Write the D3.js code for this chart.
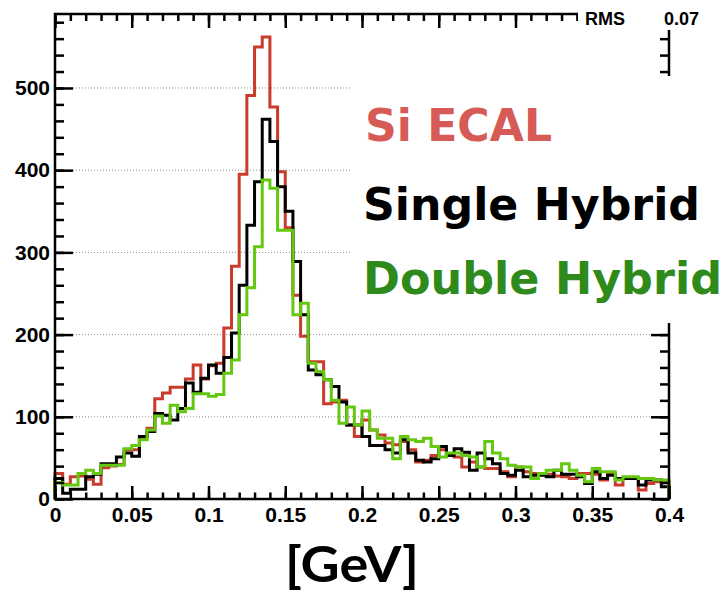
<!DOCTYPE html>
<html>
<head>
<meta charset="utf-8">
<script src="https://cdn.jsdelivr.net/npm/d3@7"></script>
<style>
  html, body { margin: 0; padding: 0; background: #fff; }
  svg { display: block; }
</style>
</head>
<body>
<svg id="chart" width="727" height="594"></svg>
<script>
// Histogram binning: 80 bins of 0.005 GeV from 0 to 0.4 GeV
const xMin = 0, xMax = 0.4, nBins = 80;

// Entries per bin for each calorimeter option
const siEcal = [
  31, 18, 27, 28, 24, 18, 38, 40, 42, 60,
  60, 75, 86, 122, 129, 136, 136, 146, 163, 146,
  162, 165, 208, 283, 395, 491, 550, 562, 477, 398,
  330, 248, 198, 167, 167, 116, 118, 120, 90, 76,
  96, 84, 78, 68, 66, 70, 60, 45, 47, 53,
  60, 53, 51, 39, 45, 39, 37, 37, 33, 27,
  39, 33, 31, 30, 30, 28, 27, 25, 31, 31,
  30, 23, 31, 17, 25, 25, 11, 19, 21, 21
];
const singleHybrid = [
  25, 7, 12, 12, 27, 30, 43, 43, 51, 56,
  52, 76, 82, 104, 102, 96, 110, 141, 130, 147,
  163, 153, 172, 202, 260, 333, 386, 462, 435, 380,
  350, 289, 224, 157, 151, 145, 137, 118, 90, 90,
  76, 65, 65, 60, 56, 72, 56, 47, 45, 49,
  64, 53, 61, 57, 35, 56, 49, 43, 31, 29,
  35, 27, 29, 29, 27, 35, 30, 30, 27, 19,
  33, 25, 29, 25, 25, 25, 17, 23, 23, 15
];
const doubleHybrid = [
  20, 17, 17, 31, 35, 31, 41, 41, 41, 61,
  65, 72, 84, 101, 92, 114, 106, 110, 128, 128,
  125, 127, 153, 169, 224, 257, 307, 388, 378, 327,
  327, 224, 238, 165, 155, 145, 120, 92, 112, 90,
  107, 84, 74, 74, 49, 76, 72, 70, 74, 64,
  51, 56, 56, 53, 51, 39, 70, 56, 49, 41,
  39, 39, 25, 31, 35, 35, 43, 35, 29, 21,
  37, 33, 33, 23, 27, 27, 25, 25, 23, 23
];

const seriesNames = ["Si ECAL", "Single Hybrid", "Double Hybrid"];
const lineColors = ["#c93b2b", "#000000", "#63c80f"];
const labelColors = ["#d65a55", "#000000", "#2f8a1c"];

const xTicksMajor = [0, 0.05, 0.1, 0.15, 0.2, 0.25, 0.3, 0.35, 0.4];
const xTickLabels = ["0", "0.05", "0.1", "0.15", "0.2", "0.25", "0.3", "0.35", "0.4"];
const yTicksMajor = [0, 100, 200, 300, 400, 500];
const yMax = 590;

const statName = "RMS";
const statValue = "0.07";
const axisTitle = "[GeV]";

// ---- layout ----
const frame = { left: 55, right: 669, top: 14, bottom: 499 };
const svg = d3.select("#chart");

const x = d3.scaleLinear().domain([xMin, xMax]).range([frame.left, frame.right]);
const y = d3.scaleLinear().domain([0, yMax]).range([frame.bottom, frame.top]);
const binW = (xMax - xMin) / nBins;

const xMinor = d3.range(0, 41).map(i => +(i * 0.01).toFixed(2));
const yMinor = d3.range(0, 30).map(i => i * 20);

// dotted horizontal grid at the major y ticks
svg.append("g")
  .selectAll("line")
  .data(yTicksMajor.filter(v => v > 0))
  .join("line")
  .attr("x1", frame.left).attr("x2", frame.right)
  .attr("y1", d => y(d)).attr("y2", d => y(d))
  .attr("stroke", "#8a8a8a")
  .attr("stroke-width", 1)
  .attr("stroke-dasharray", "1,2");

// step outlines of the three histograms
const stepLine = d3.line().x(d => x(d[0])).y(d => y(d[1]));
function stepPoints(values) {
  const pts = [[xMin, 0]];
  values.forEach((v, i) => {
    pts.push([xMin + i * binW, v]);
    pts.push([xMin + (i + 1) * binW, v]);
  });
  pts.push([xMax, 0]);
  return pts;
}
[siEcal, singleHybrid, doubleHybrid].forEach((vals, k) => {
  svg.append("path")
    .attr("d", stepLine(stepPoints(vals)))
    .attr("fill", "none")
    .attr("stroke", lineColors[k])
    .attr("stroke-width", 3)
    .attr("stroke-linejoin", "miter");
});

// ---- axes (ticks point into the frame) ----
const tickFont = "'Liberation Sans', Arial, Helvetica, sans-serif";
function styleAxis(g) {
  g.select(".domain").remove();
  g.selectAll(".tick line").attr("stroke", "#000").attr("stroke-width", 2.5);
  g.selectAll("text")
    .attr("font-family", tickFont)
    .attr("font-weight", "bold")
    .attr("font-size", 21)
    .attr("fill", "#000");
}

// bottom
svg.append("g").attr("transform", `translate(0,${frame.bottom})`)
  .call(d3.axisBottom(x).tickValues(xMinor).tickSize(-6.5).tickFormat(""))
  .call(styleAxis);
svg.append("g").attr("transform", `translate(0,${frame.bottom})`)
  .call(d3.axisBottom(x).tickValues(xTicksMajor).tickSize(-13).tickPadding(8)
    .tickFormat((d, i) => xTickLabels[i]))
  .call(styleAxis);

// top
svg.append("g").attr("transform", `translate(0,${frame.top})`)
  .call(d3.axisTop(x).tickValues(xMinor).tickSize(-7).tickFormat(""))
  .call(styleAxis);
svg.append("g").attr("transform", `translate(0,${frame.top})`)
  .call(d3.axisTop(x).tickValues(xTicksMajor).tickSize(-14).tickFormat(""))
  .call(styleAxis);

// left
svg.append("g").attr("transform", `translate(${frame.left},0)`)
  .call(d3.axisLeft(y).tickValues(yMinor).tickSize(-9).tickFormat(""))
  .call(styleAxis);
svg.append("g").attr("transform", `translate(${frame.left},0)`)
  .call(d3.axisLeft(y).tickValues(yTicksMajor).tickSize(-18).tickPadding(5)
    .tickFormat(d3.format("d")))
  .call(styleAxis);

// right
svg.append("g").attr("transform", `translate(${frame.right},0)`)
  .call(d3.axisRight(y).tickValues(yMinor).tickSize(-9).tickFormat(""))
  .call(styleAxis);
svg.append("g").attr("transform", `translate(${frame.right},0)`)
  .call(d3.axisRight(y).tickValues(yTicksMajor).tickSize(-18).tickFormat(""))
  .call(styleAxis);

// frame
svg.append("rect")
  .attr("x", frame.left).attr("y", frame.top)
  .attr("width", frame.right - frame.left).attr("height", frame.bottom - frame.top)
  .attr("fill", "none").attr("stroke", "#000").attr("stroke-width", 2.5);

// ---- statistics box (top right) ----
svg.append("rect").attr("x", 578).attr("y", 0).attr("width", 149).attr("height", 30)
  .attr("fill", "#fff");
svg.append("text").attr("x", 585).attr("y", 25)
  .attr("font-family", tickFont).attr("font-weight", "bold").attr("font-size", 18)
  .text(statName);
svg.append("text").attr("x", 699).attr("y", 25).attr("text-anchor", "end")
  .attr("font-family", tickFont).attr("font-weight", "bold").attr("font-size", 18)
  .text(statValue);

// ---- legend block ----
svg.append("rect").attr("x", 350).attr("y", 76).attr("width", 377).attr("height", 247)
  .attr("fill", "#fff");
const legendFont = "'DejaVu Sans', Verdana, sans-serif";
const legendRows = [
  { x: 365, y: 141, w: 187 },
  { x: 363, y: 220, w: 337 },
  { x: 363, y: 294, w: 359 }
];
legendRows.forEach((r, k) => {
  svg.append("text")
    .attr("x", r.x).attr("y", r.y)
    .attr("font-family", legendFont).attr("font-weight", "bold").attr("font-size", 45)
    .attr("fill", labelColors[k])
    .attr("textLength", r.w).attr("lengthAdjust", "spacingAndGlyphs")
    .text(seriesNames[k]);
});

// ---- x axis title ----
svg.append("text")
  .attr("x", 352).attr("y", 582).attr("text-anchor", "middle")
  .attr("font-family", "Lato, 'Open Sans', sans-serif").attr("font-weight", "bold").attr("font-size", 50)
  .attr("fill", "#000")
  .attr("textLength", 134).attr("lengthAdjust", "spacingAndGlyphs")
  .text(axisTitle);
</script>
</body>
</html>
